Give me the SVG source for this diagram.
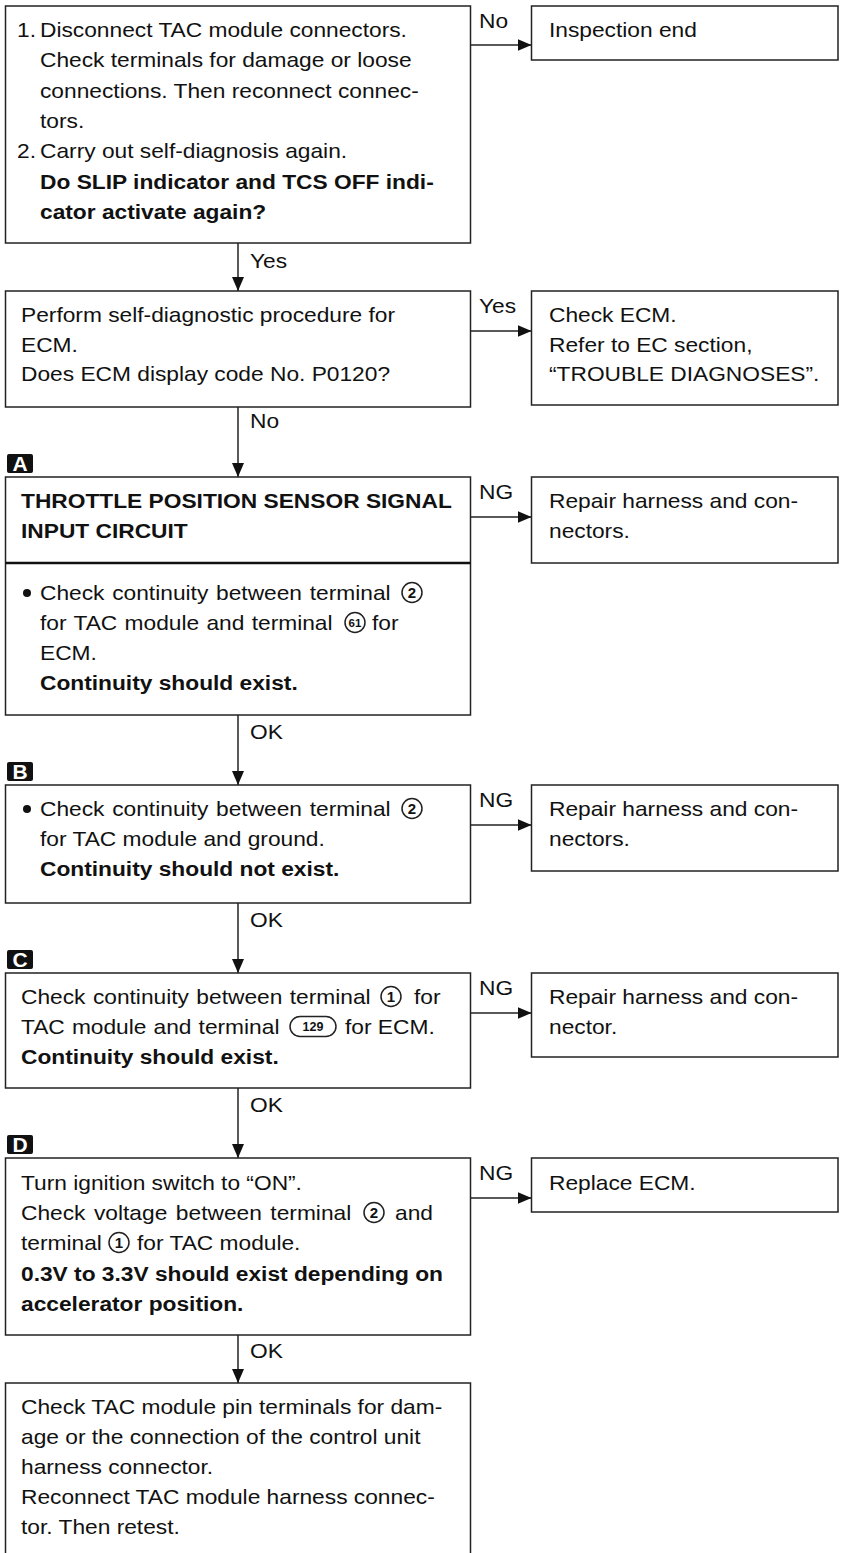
<svg xmlns="http://www.w3.org/2000/svg" width="843" height="1553" viewBox="0 0 843 1553">
<defs>
<style>
.t{font-family:"Liberation Sans",Arial,Helvetica,sans-serif;font-size:20.5px;fill:#111}
.b{font-weight:bold}
.box{fill:#fff;stroke:#222;stroke-width:1.5}
.ln{fill:none;stroke:#222;stroke-width:1.5}
.cn{fill:none;stroke:#222;stroke-width:1.5}
.num{font-family:"Liberation Sans",Arial,sans-serif;font-weight:bold;fill:#111;text-anchor:middle}
.mk{fill:#111}
.mt{font-family:"Liberation Sans",Arial,sans-serif;font-weight:bold;font-size:21px;fill:#fff;text-anchor:middle}
</style>
<marker id="ah" viewBox="0 0 14 12" refX="14" refY="6" markerWidth="14" markerHeight="12" markerUnits="userSpaceOnUse" orient="auto">
<path d="M0,0 L14,6 L0,12 Z" fill="#111"/>
</marker>
</defs>
<rect width="843" height="1553" fill="#fff"/>

<g id="connectors">
<line class="cn" x1="238" y1="243" x2="238" y2="291" marker-end="url(#ah)"/>
<line class="cn" x1="238" y1="407" x2="238" y2="477" marker-end="url(#ah)"/>
<line class="cn" x1="238" y1="715" x2="238" y2="785" marker-end="url(#ah)"/>
<line class="cn" x1="238" y1="903" x2="238" y2="973" marker-end="url(#ah)"/>
<line class="cn" x1="238" y1="1088" x2="238" y2="1158" marker-end="url(#ah)"/>
<line class="cn" x1="238" y1="1335" x2="238" y2="1383" marker-end="url(#ah)"/>
<line class="cn" x1="470.5" y1="45" x2="531.5" y2="45" marker-end="url(#ah)"/>
<line class="cn" x1="470.5" y1="331" x2="531.5" y2="331" marker-end="url(#ah)"/>
<line class="cn" x1="470.5" y1="517" x2="531.5" y2="517" marker-end="url(#ah)"/>
<line class="cn" x1="470.5" y1="825" x2="531.5" y2="825" marker-end="url(#ah)"/>
<line class="cn" x1="470.5" y1="1013" x2="531.5" y2="1013" marker-end="url(#ah)"/>
<line class="cn" x1="470.5" y1="1198" x2="531.5" y2="1198" marker-end="url(#ah)"/>
<text class="t" transform="translate(250 268) scale(1.11 1)">Yes</text>
<text class="t" transform="translate(250 428) scale(1.11 1)">No</text>
<text class="t" transform="translate(250 739) scale(1.11 1)">OK</text>
<text class="t" transform="translate(250 927) scale(1.11 1)">OK</text>
<text class="t" transform="translate(250 1112) scale(1.11 1)">OK</text>
<text class="t" transform="translate(250 1358) scale(1.11 1)">OK</text>
<text class="t" transform="translate(479 28) scale(1.11 1)">No</text>
<text class="t" transform="translate(479 313) scale(1.11 1)">Yes</text>
<text class="t" transform="translate(479 499) scale(1.11 1)">NG</text>
<text class="t" transform="translate(479 807) scale(1.11 1)">NG</text>
<text class="t" transform="translate(479 995) scale(1.11 1)">NG</text>
<text class="t" transform="translate(479 1180) scale(1.11 1)">NG</text>
</g>

<g id="markers">
<rect class="mk" x="7" y="454" width="26" height="19" rx="2"/>
<text class="mt" x="20" y="471">A</text>
<rect class="mk" x="7" y="762" width="26" height="19" rx="2"/>
<text class="mt" x="20" y="779">B</text>
<rect class="mk" x="7" y="950" width="26" height="19" rx="2"/>
<text class="mt" x="20" y="967">C</text>
<rect class="mk" x="7" y="1135" width="26" height="19" rx="2"/>
<text class="mt" x="20" y="1152">D</text>
</g>

<g id="n1">
<rect class="box" x="5.5" y="6" width="465" height="237"/>
<text class="t" transform="translate(17 37) scale(1.11 1)">1.</text>
<text class="t" transform="translate(40 37) scale(1.11 1)">Disconnect TAC module connectors.</text>
<text class="t" transform="translate(40 67) scale(1.11 1)">Check terminals for damage or loose</text>
<text class="t" transform="translate(40 98) scale(1.11 1)">connections. Then reconnect connec-</text>
<text class="t" transform="translate(40 128) scale(1.11 1)">tors.</text>
<text class="t" transform="translate(17 158) scale(1.11 1)">2.</text>
<text class="t" transform="translate(40 158) scale(1.11 1)">Carry out self-diagnosis again.</text>
<text class="t b" transform="translate(40 189) scale(1.11 1)">Do SLIP indicator and TCS OFF indi-</text>
<text class="t b" transform="translate(40 219) scale(1.11 1)">cator activate again?</text>
</g>

<g id="n_end">
<rect class="box" x="531.5" y="6" width="306.5" height="54"/>
<text class="t" transform="translate(549 37) scale(1.11 1)">Inspection end</text>
</g>

<g id="n2">
<rect class="box" x="5.5" y="291" width="465" height="116"/>
<text class="t" transform="translate(21 322) scale(1.11 1)">Perform self-diagnostic procedure for</text>
<text class="t" transform="translate(21 352) scale(1.11 1)">ECM.</text>
<text class="t" transform="translate(21 381) scale(1.11 1)">Does ECM display code No. P0120?</text>
</g>

<g id="n_ecm">
<rect class="box" x="531.5" y="291" width="306.5" height="114"/>
<text class="t" transform="translate(549 322) scale(1.11 1)">Check ECM.</text>
<text class="t" transform="translate(549 352) scale(1.11 1)">Refer to EC section,</text>
<text class="t" transform="translate(549 381) scale(1.11 1)">“TROUBLE DIAGNOSES”.</text>
</g>

<g id="nA">
<rect class="box" x="5.5" y="477" width="465" height="238"/>
<line x1="5.5" y1="563" x2="470.5" y2="563" stroke="#111" stroke-width="2.6"/>
<text class="t b" transform="translate(21 508) scale(1.11 1)">THROTTLE POSITION SENSOR SIGNAL</text>
<text class="t b" transform="translate(21 538) scale(1.11 1)">INPUT CIRCUIT</text>
<circle cx="27" cy="593" r="4" fill="#111"/>
<text class="t" word-spacing="1.3" transform="translate(40 600) scale(1.11 1)">Check continuity between terminal</text>
<circle class="ln" cx="412" cy="592.5" r="10"/>
<text class="num" x="412" y="598" font-size="15">2</text>
<text class="t" word-spacing="0.9" transform="translate(40 630) scale(1.11 1)">for TAC module and terminal</text>
<circle class="ln" cx="355" cy="622.5" r="10"/>
<text class="num" x="355" y="627" font-size="11.5">61</text>
<text class="t" transform="translate(372 630) scale(1.11 1)">for</text>
<text class="t" transform="translate(40 660) scale(1.11 1)">ECM.</text>
<text class="t b" transform="translate(40 690) scale(1.11 1)">Continuity should exist.</text>
</g>

<g id="nA_ng">
<rect class="box" x="531.5" y="477" width="306.5" height="86"/>
<text class="t" transform="translate(549 508) scale(1.11 1)">Repair harness and con-</text>
<text class="t" transform="translate(549 538) scale(1.11 1)">nectors.</text>
</g>

<g id="nB">
<rect class="box" x="5.5" y="785" width="465" height="118"/>
<circle cx="27" cy="809" r="4" fill="#111"/>
<text class="t" word-spacing="1.3" transform="translate(40 816) scale(1.11 1)">Check continuity between terminal</text>
<circle class="ln" cx="412" cy="808.5" r="10"/>
<text class="num" x="412" y="814" font-size="15">2</text>
<text class="t" transform="translate(40 846) scale(1.11 1)">for TAC module and ground.</text>
<text class="t b" transform="translate(40 876) scale(1.11 1)">Continuity should not exist.</text>
</g>

<g id="nB_ng">
<rect class="box" x="531.5" y="785" width="306.5" height="86"/>
<text class="t" transform="translate(549 816) scale(1.11 1)">Repair harness and con-</text>
<text class="t" transform="translate(549 846) scale(1.11 1)">nectors.</text>
</g>

<g id="nC">
<rect class="box" x="5.5" y="973" width="465" height="115"/>
<text class="t" word-spacing="1" transform="translate(21 1004) scale(1.11 1)">Check continuity between terminal</text>
<circle class="ln" cx="391" cy="996.5" r="10"/>
<text class="num" x="391" y="1002" font-size="15">1</text>
<text class="t" transform="translate(414 1004) scale(1.11 1)">for</text>
<text class="t" word-spacing="0.7" transform="translate(21 1034) scale(1.11 1)">TAC module and terminal</text>
<rect class="ln" x="290" y="1016.5" width="46" height="20" rx="10" stroke-width="1.8"/>
<text class="num" x="313" y="1031" font-size="12.5">129</text>
<text class="t" transform="translate(345 1034) scale(1.11 1)">for ECM.</text>
<text class="t b" transform="translate(21 1064) scale(1.11 1)">Continuity should exist.</text>
</g>

<g id="nC_ng">
<rect class="box" x="531.5" y="973" width="306.5" height="84"/>
<text class="t" transform="translate(549 1004) scale(1.11 1)">Repair harness and con-</text>
<text class="t" transform="translate(549 1034) scale(1.11 1)">nector.</text>
</g>

<g id="nD">
<rect class="box" x="5.5" y="1158" width="465" height="177"/>
<text class="t" transform="translate(21 1190) scale(1.11 1)">Turn ignition switch to “ON”.</text>
<text class="t" word-spacing="2" transform="translate(21 1220) scale(1.11 1)">Check voltage between terminal</text>
<circle class="ln" cx="374" cy="1212.5" r="10"/>
<text class="num" x="374" y="1218" font-size="15">2</text>
<text class="t" transform="translate(395 1220) scale(1.11 1)">and</text>
<text class="t" transform="translate(21 1250) scale(1.11 1)">terminal</text>
<circle class="ln" cx="119" cy="1242.5" r="10"/>
<text class="num" x="119" y="1248" font-size="15">1</text>
<text class="t" transform="translate(137 1250) scale(1.11 1)">for TAC module.</text>
<text class="t b" transform="translate(21 1281) scale(1.11 1)">0.3V to 3.3V should exist depending on</text>
<text class="t b" transform="translate(21 1311) scale(1.11 1)">accelerator position.</text>
</g>

<g id="nD_ng">
<rect class="box" x="531.5" y="1158" width="306.5" height="54"/>
<text class="t" transform="translate(549 1190) scale(1.11 1)">Replace ECM.</text>
</g>

<g id="nE">
<path class="ln" d="M5.5,1556 V1383 H470.5 V1556"/>
<text class="t" transform="translate(21 1414) scale(1.11 1)">Check TAC module pin terminals for dam-</text>
<text class="t" transform="translate(21 1444) scale(1.11 1)">age or the connection of the control unit</text>
<text class="t" transform="translate(21 1474) scale(1.11 1)">harness connector.</text>
<text class="t" transform="translate(21 1504) scale(1.11 1)">Reconnect TAC module harness connec-</text>
<text class="t" transform="translate(21 1534) scale(1.11 1)">tor. Then retest.</text>
</g>
</svg>
